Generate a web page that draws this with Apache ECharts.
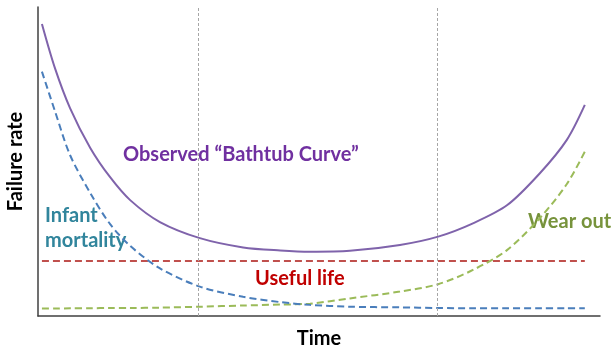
<!DOCTYPE html>
<html>
<head>
<meta charset="utf-8">
<style>
  html, body { margin: 0; padding: 0; background: #ffffff; }
  #chart { width: 614px; height: 350px; }
</style>
<script src="https://cdn.jsdelivr.net/npm/echarts@6/dist/echarts.min.js"></script>
</head>
<body>
<div id="chart"></div>
<script>
// Time positions (percent of product lifetime) shared by all curves
const timePoints = [0.7, 3.0, 5.7, 9.3, 12.8, 16.4, 21.7, 28.8, 36.5, 43.1, 48.4, 55.5, 64.4, 71.2, 77.4, 83.5, 89.3, 94.1, 97.3];

// Failure-rate components (relative units)
const observedRate  = [94.5, 80.3, 67.3, 54.4, 45.0, 37.5, 30.4, 25.2, 22.2, 21.2, 20.8, 21.1, 23.0, 25.7, 30.0, 35.9, 46.2, 57.0, 68.3];
const infantRate    = [79.1, 66.4, 52.1, 39.8, 29.8, 22.7, 15.4, 9.5, 6.2, 4.5, 3.6, 3.0, 2.8, 2.6, 2.5, 2.5, 2.5, 2.5, 2.5];
const randomRate    = [17.8, 17.8, 17.8, 17.8, 17.8, 17.8, 17.8, 17.8, 17.8, 17.8, 17.8, 17.8, 17.8, 17.8, 17.8, 17.8, 17.8, 17.8, 17.8];
const wearOutRate   = [2.4, 2.4, 2.5, 2.5, 2.6, 2.6, 2.7, 3.0, 3.4, 3.7, 4.0, 5.7, 7.9, 10.3, 14.9, 21.4, 31.7, 42.7, 53.2];

// Boundaries between the three life phases
const phaseBounds = [28.6, 71.0];

const pairs = vals => timePoints.map((t, i) => [t, vals[i]]);

const FONT = 'Lato';
const chart = echarts.init(document.getElementById('chart'), null, { renderer: 'canvas' });

const dashed = (color) => ({ color: color, width: 2, type: [7, 4] });
const curve = { type: 'line', symbol: 'none', smooth: 0.3 };

chart.setOption({
  animation: false,
  backgroundColor: '#ffffff',
  grid: { left: 38, right: 14, top: 7, bottom: 34, containLabel: false, outerBoundsMode: 'none' },
  xAxis: {
    type: 'value', min: 0, max: 100,
    name: 'Time', nameLocation: 'middle', nameGap: 13,
    nameTextStyle: { fontFamily: FONT, fontWeight: 'bold', fontSize: 20, color: '#000' },
    axisLine: { show: true, lineStyle: { color: '#404040', width: 1.5 } },
    axisTick: { show: false }, axisLabel: { show: false }, splitLine: { show: false }
  },
  yAxis: {
    type: 'value', min: 0, max: 100,
    name: 'Failure rate', nameLocation: 'middle', nameGap: 12,
    nameTextStyle: { fontFamily: FONT, fontWeight: 'bold', fontSize: 20, color: '#000' },
    axisLine: { show: true, lineStyle: { color: '#404040', width: 1.5 } },
    axisTick: { show: false }, axisLabel: { show: false }, splitLine: { show: false }
  },
  series: [
    Object.assign({}, curve, {
      name: 'Useful life', data: pairs(randomRate), smooth: false,
      lineStyle: dashed('#C0504D'), z: 2,
      markLine: {
        silent: true, symbol: 'none', label: { show: false },
        lineStyle: { color: '#a6a6a6', width: 1, type: [3, 2] },
        data: phaseBounds.map(x => ({ xAxis: x }))
      }
    }),
    Object.assign({}, curve, { name: 'Wear out', data: pairs(wearOutRate), lineStyle: dashed('#9BBB59'), z: 2 }),
    Object.assign({}, curve, { name: 'Infant mortality', data: pairs(infantRate), lineStyle: dashed('#4A7EBB'), z: 3 }),
    Object.assign({}, curve, { name: 'Observed', data: pairs(observedRate), lineStyle: { color: '#7F63AB', width: 2 }, z: 4 })
  ],
  graphic: [
    { type: 'text', left: 123, top: 145, style: { text: 'Observed “Bathtub Curve”', fontFamily: FONT, fontWeight: 'bold', fontSize: 20, fill: '#7030A0' } },
    { type: 'text', left: 45, top: 203, style: { text: 'Infant\nmortality', lineHeight: 25, fontFamily: FONT, fontWeight: 'bold', fontSize: 20, fill: '#31859C' } },
    { type: 'text', left: 528, top: 212, style: { text: 'Wear out', fontFamily: FONT, fontWeight: 'bold', fontSize: 20, fill: '#77933C' } },
    { type: 'text', left: 255, top: 269, style: { text: 'Useful life', fontFamily: FONT, fontWeight: 'bold', fontSize: 20, fill: '#C00000' } }
  ]
});
</script>
</body>
</html>
